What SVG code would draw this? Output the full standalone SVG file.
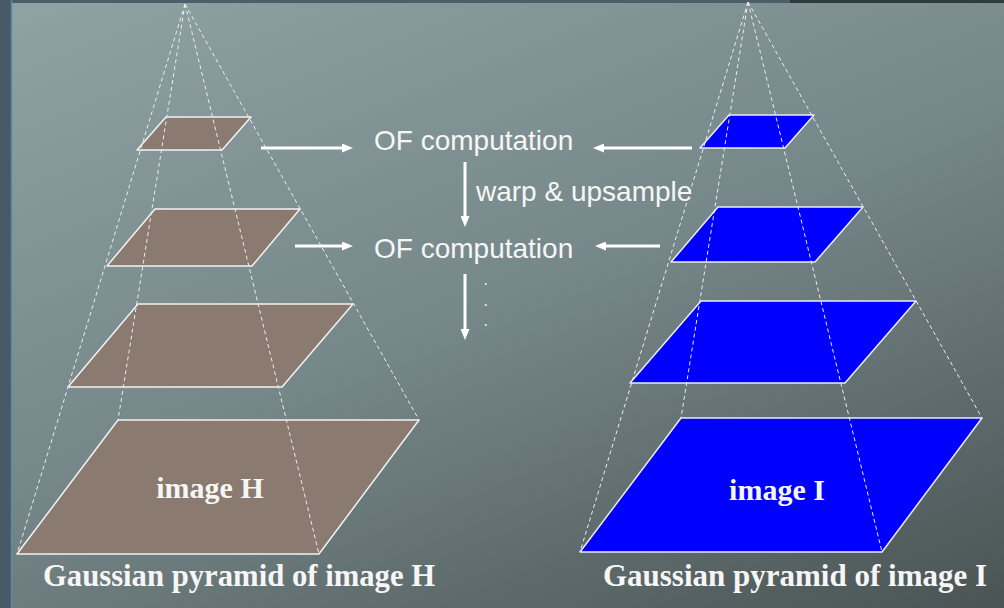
<svg xmlns="http://www.w3.org/2000/svg" width="1004" height="608" viewBox="0 0 1004 608">
<defs>
<linearGradient id="bg" gradientUnits="userSpaceOnUse" x1="0" y1="0" x2="348" y2="870">
<stop offset="0" stop-color="#8fa2a4"/>
<stop offset="0.5" stop-color="#768789"/>
<stop offset="1" stop-color="#4a5454"/>
</linearGradient>
<marker id="ah" viewBox="0 0 11 9" markerWidth="11" markerHeight="9" markerUnits="userSpaceOnUse" refX="5" refY="4.5" orient="auto">
<path d="M0,0 L11,4.5 L0,9 z" fill="#ffffff"/>
</marker>
<style>
.brown{fill:#8a7a6f;stroke:#f2f2f2;stroke-width:1.5;stroke-linejoin:round}
.blue{fill:#0000ff;stroke:#ececf4;stroke-width:1.5;stroke-linejoin:round}
.dash{stroke:#ececec;stroke-width:1;stroke-dasharray:4 3;fill:none}
.arr{stroke:#ffffff;stroke-width:3;fill:none;marker-end:url(#ah)}
.sans{font-family:"Liberation Sans",Arial,sans-serif;font-size:28px;fill:#f6f6f6}
.serif{font-family:"Liberation Serif","Times New Roman",serif;font-weight:bold;fill:#f6f6f6}
</style>
</defs>
<rect x="0" y="0" width="1004" height="608" fill="url(#bg)"/>
<rect x="0" y="0" width="790" height="3" fill="#4a5f68"/>
<rect x="790" y="0" width="214" height="3" fill="#2e3a3d"/>
<rect x="0" y="0" width="11" height="608" fill="#465b67"/>
<line x1="11.5" y1="0" x2="11.5" y2="608" stroke="#5b8aa2" stroke-width="1.5"/>

<g id="pyramid-H">
<polygon class="brown" points="166,117 251,117 222,150 137,150"/>
<polygon class="brown" points="155,209 300,209 252,266 107,266"/>
<polygon class="brown" points="138,304 353,304 282,387 68,387"/>
<polygon class="brown" points="118,420 419,420 319,554 17,554"/>
<line class="dash" x1="185" y1="4" x2="17" y2="554"/>
<line class="dash" x1="185" y1="4" x2="118" y2="420"/>
<line class="dash" x1="185" y1="4" x2="319" y2="554"/>
<line class="dash" x1="185" y1="4" x2="419" y2="420"/>
<text class="serif" x="210" y="498" font-size="30" text-anchor="middle">image H</text>
</g>

<g id="pyramid-I">
<polygon class="blue" points="729,115 814,115 785,148 700,148"/>
<polygon class="blue" points="718,207 863,207 815,262 671,262"/>
<polygon class="blue" points="701,301 916,301 845,383 630,383"/>
<polygon class="blue" points="681,418 982,418 882,552 580,552"/>
<line class="dash" x1="748" y1="2" x2="580" y2="552"/>
<line class="dash" x1="748" y1="2" x2="681" y2="418"/>
<line class="dash" x1="748" y1="2" x2="882" y2="552"/>
<line class="dash" x1="748" y1="2" x2="982" y2="418"/>
<text class="serif" x="777" y="500" font-size="30" text-anchor="middle">image I</text>
</g>

<g id="of-computation-1">
<text class="sans" x="374" y="150">OF computation</text>
</g>
<g id="of-computation-2">
<text class="sans" x="374" y="258">OF computation</text>
</g>
<g id="warp-label">
<text class="sans" x="476" y="201">warp &amp; upsample</text>
</g>
<g id="ellipsis">
<text font-family="Liberation Sans,Arial,sans-serif" font-size="16" fill="#f6f6f6"><tspan x="483.5" y="285">.</tspan><tspan x="483.5" y="306">.</tspan><tspan x="483.5" y="326">.</tspan></text>
</g>

<g id="caption-H">
<text class="serif" x="239" y="586" font-size="30.7" text-anchor="middle">Gaussian pyramid of image H</text>
</g>
<g id="caption-I">
<text class="serif" x="795" y="586" font-size="31" text-anchor="middle">Gaussian pyramid of image I</text>
</g>

<g id="connectors">
<line class="arr" x1="261" y1="148" x2="347" y2="148"/>
<line class="arr" x1="692" y1="148" x2="599" y2="148"/>
<line class="arr" x1="295" y1="246" x2="347" y2="246"/>
<line class="arr" x1="660" y1="246" x2="601" y2="246"/>
<line class="arr" x1="465" y1="162" x2="465" y2="221"/>
<line class="arr" x1="465" y1="274" x2="465" y2="334"/>
</g>
</svg>
